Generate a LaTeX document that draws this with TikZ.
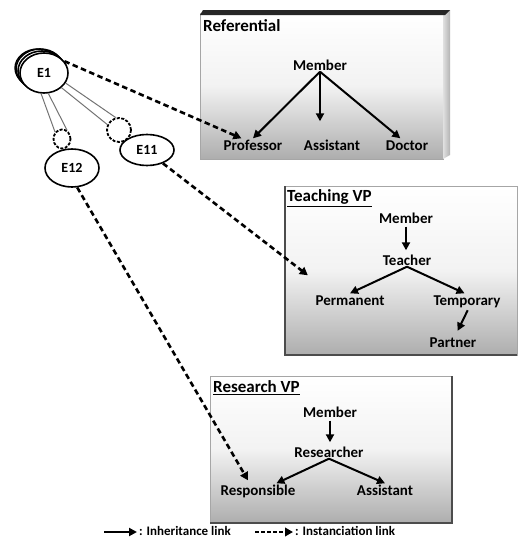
\documentclass[tikz,border=0pt]{standalone}
\usepackage{fontspec}
\setmainfont{Carlito}
\usetikzlibrary{arrows.meta,calc,shapes.geometric}
\begin{document}
\begin{tikzpicture}[x=1pt,y=-1pt,
  lbl/.style={font=\bfseries\fontsize{15}{17}\selectfont, inner sep=1.5pt, text height=10pt, text depth=0pt},
  ttl/.style={font=\bfseries\fontsize{17}{19}\selectfont, inner sep=0pt, anchor=west},
  inh/.style={line width=2pt, -{Triangle[length=8pt,width=8pt]}},
  inst/.style={line width=2.6pt, dash pattern=on 5.5pt off 3.5pt, -{Triangle[length=8pt,width=8.5pt]}},
  ent/.style={ellipse, draw, line width=1.6pt, font=\bfseries\fontsize{14}{16}\selectfont, inner sep=0pt},
  loopc/.style={ellipse, draw, line width=1.8pt, dash pattern=on 3pt off 1.5pt, inner sep=0pt},
  tube/.style={draw=black!55, line width=1pt},
  boxfill/.style={top color=white, bottom color=black!32, middle color=black!5},
  legend/.style={font=\bfseries\fontsize{13}{15}\selectfont, inner sep=0pt, anchor=west},
]
\useasboundingbox (0,0) rectangle (519,541);

% ---------- Referential box ----------
\shade[boxfill] (200,13) rectangle (443,159);
\draw[black!35, line width=0.6pt] (200,13) rectangle (443,159);
\shade[left color=black!12, right color=black!30] (443,14) -- (450,10) -- (450,155) -- (443,159) -- cycle;
\fill[black!85] (203,10) -- (450,10) -- (445,15) -- (200,15) -- cycle;
\node[ttl] (t1) at (203,26) {Referential};
\node[lbl] (mem1) at (320,65) {Member};
\node[lbl] (prof) at (253,145) {Professor};
\node[lbl] (asst1) at (332,145) {Assistant};
\node[lbl] (doc) at (407,145) {Doctor};
\draw[inh] (mem1.south) -- (prof.north);
\draw[inh, shorten >=17pt] (mem1.south) -- (mem1.south |- asst1.north);
\draw[inh] (mem1.south) -- (doc.135);

% ---------- Teaching VP box ----------
\shade[boxfill] (285,186) rectangle (517,355);
\draw[black!35, line width=0.6pt] (285,186) rectangle (517,355);
\draw[black!70, line width=1.5pt] (285,186) -- (285,355) -- (517,355);
\node[ttl] (t2) at (287,198) {\underline{Teaching VP}};
\node[lbl] (mem2) at (406,218) {Member};
\node[lbl] (teach) at (407,260) {Teacher};
\node[lbl] (perm) at (350,300) {Permanent};
\node[lbl] (temp) at (467,300) {Temporary};
\node[lbl] (partner) at (453,342) {Partner};
\draw[inh, shorten <=2pt, shorten >=3pt] (mem2.south) -- (mem2.south |- teach.north);
\draw[inh] (teach.south) -- (perm.north);
\draw[inh] (teach.south) -- (temp.110);
\draw[inh, shorten <=4pt, shorten >=5pt] (temp.-70) -- (partner.70);

% ---------- Research VP box ----------
\shade[boxfill] (210,376) rectangle (452,523);
\draw[black!35, line width=0.6pt] (210,376) rectangle (452,523);
\draw[black!70, line width=1.5pt] (452,376) -- (452,523) -- (210,523);
\node[ttl] (t3) at (213,388) {\underline{Research VP}};
\node[lbl] (mem3) at (330,412) {Member};
\node[lbl] (resr) at (329,452) {Researcher};
\node[lbl] (resp) at (258,490) {Responsible};
\node[lbl] (asst3) at (385,490) {Assistant};
\draw[inh, shorten <=2pt, shorten >=3pt] (mem3.south) -- (mem3.south |- resr.north);
\draw[inh] (resr.south) -- (resp.20);
\draw[inh] (resr.south) -- (asst3.north);

% ---------- entities ----------
\draw[line width=1.6pt] (42,71) ellipse [x radius=24pt, y radius=20pt];
\draw[line width=1.6pt] (40,69) ellipse [x radius=24pt, y radius=20pt];
\draw[line width=1.4pt] (38,68) ellipse [x radius=23pt, y radius=19pt];
\node[ent, fill=white, minimum width=48pt, minimum height=40pt] (E1) at (44,73) {E1};
\node[ent, minimum width=54pt, minimum height=31pt] (E11) at (147,150) {E11};
\node[ent, minimum width=54pt, minimum height=38pt] (E12) at (72,168) {E12};
\node[loopc, minimum width=24pt, minimum height=24pt] (loopA) at (119,130) {};
\node[loopc, minimum width=17pt, minimum height=19pt] (loopB) at (62,139) {};
\draw[tube] (E1.-25) -- (loopA.105);
\draw[tube] (E1.-40) -- (loopA.155);
\draw[tube] (E1.-98) -- (loopB.135);
\draw[tube] (E1.-78) -- (loopB.60);

% ---------- instanciation links ----------
\draw[inst] (E1.30) -- (prof.150);
\draw[inst] (E11.-40) -- ($(perm.north west)+(-6,-18)$);
\draw[inst] (E12.-75) -- ($(resp.north)+(-10,-3)$);

% ---------- legend ----------
\coordinate (la1) at (104,532);
\coordinate (la2) at (137,532);
\coordinate (lb1) at (255,532);
\coordinate (lb2) at (293,532);
\draw[inh] (la1) -- (la2);
\node[legend] (lt1) at (139,531) {: Inheritance link};
\draw[inst, line width=2pt, dash pattern=on 3.5pt off 2.5pt] (lb1) -- (lb2);
\node[legend] (lt2) at (295,531) {: Instanciation link};
\end{tikzpicture}
\end{document}
